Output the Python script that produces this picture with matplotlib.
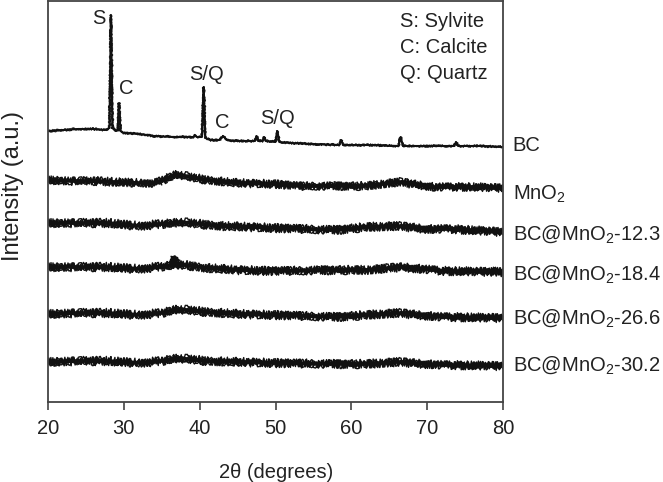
import matplotlib
matplotlib.use("Agg")
import matplotlib.pyplot as plt

plt.rcParams['font.family'] = ['Liberation Sans', 'DejaVu Sans']
plt.rcParams['mathtext.fontset'] = 'custom'
plt.rcParams['mathtext.rm'] = 'Liberation Sans'
plt.rcParams['mathtext.it'] = 'Liberation Sans:italic'
plt.rcParams['mathtext.bf'] = 'Liberation Sans:bold'

# ---------------- data (offset-stacked intensity, a.u.) ----------------
bc_x = [20, 22, 24, 26, 27.5, 28.1, 28.3, 28.5, 28.9, 29.2, 29.37, 29.55, 30, 32, 34,
        36.5, 39.2, 39.4, 39.6, 40.3, 40.53, 40.75, 41.5, 42.6, 43.1, 43.6, 45, 47.3,
        47.5, 47.7, 48.3, 48.5, 48.7, 50, 50.25, 50.5, 52, 55, 58.4, 58.65, 58.9, 62,
        66.2, 66.5, 66.8, 70, 73.6, 73.8, 74.1, 77, 80]
bc_y = [271, 272, 273, 273, 272, 274, 387, 274, 271, 272, 299, 271, 269, 268, 266,
        265, 265, 267, 265, 265, 315, 264, 262, 262, 266, 262, 261, 261,
        266, 261, 261, 265, 261, 260, 271, 260, 259, 258, 257, 262, 257, 257,
        256, 265, 256, 256, 256, 260, 256, 256, 255]

mno2_x = [20, 23, 26, 29, 32, 34.3, 36, 37, 38.7, 41, 45, 50, 53, 58, 62, 64, 66.4, 68, 71, 76, 80]
mno2_y = [222, 221, 221, 220, 219, 219, 225, 228, 225, 222, 219, 218, 216, 216, 216, 218, 220, 218, 215, 215, 214]

s123_x = [20, 24, 28, 32, 35, 37.4, 40, 43, 50, 58, 62, 66, 70, 73, 80]
s123_y = [179, 179, 179, 176, 178, 180, 178, 176, 174, 172, 175, 176, 173, 173, 170]

s184_x = [20, 24, 28, 32, 35.5, 36.5, 36.7, 36.9, 38, 41, 45, 50, 58, 62, 66.8, 72, 80]
s184_y = [135, 135, 135, 133, 136, 137, 145, 137, 137, 134, 132, 131, 132, 132, 135, 131, 130]

s266_x = [20, 24, 28, 32, 35, 37, 41, 45, 50, 58, 62, 66, 72, 80]
s266_y = [88, 89, 89, 87, 89, 93, 90, 88, 87, 85, 87, 89, 85, 84]

s302_x = [20, 24, 28, 32, 35, 37, 41, 45, 50, 58, 62, 66, 72, 80]
s302_y = [40, 41, 41, 39, 41, 44, 41, 40, 39, 38, 38, 40, 37, 36]

series_labels = ['BC', 'MnO$_2$', 'BC@MnO$_2$-12.3', 'BC@MnO$_2$-18.4',
                 'BC@MnO$_2$-26.6', 'BC@MnO$_2$-30.2']
label_baseline_y = [251.3, 202, 162, 122, 78, 31.3]

peak_labels = ['S', 'C', 'S/Q', 'C', 'S/Q']
peak_label_x = [26.7, 30.3, 40.9, 43.0, 50.3]
peak_label_y = [384, 313, 327, 280, 284]

legend_lines = ['S: Sylvite', 'C: Calcite', 'Q: Quartz']

x_ticks = [20, 30, 40, 50, 60, 70, 80]

# ---------------- figure ----------------
fig = plt.figure(figsize=(6.63, 4.82), dpi=100)
ax = fig.add_axes([48 / 663, 80 / 482, 455 / 663, 401 / 482])

xs = [bc_x, mno2_x, s123_x, s184_x, s266_x, s302_x]
ys = [bc_y, mno2_y, s123_y, s184_y, s266_y, s302_y]
noise = [1.3, 4.0, 4.2, 4.2, 4.2, 4.2]

for k, (x, y, lab, ly, nz) in enumerate(zip(xs, ys, series_labels, label_baseline_y, noise)):
    if k == 0:
        ax.plot(x, y, color='#111111', lw=1.5)
        sketches = [(nz, 0.5, 2.0), (nz * 0.8, 0.35, 3.5)]
        slw = 0.8
    else:
        ax.plot(x, y, color='#111111', lw=2.6)
        sketches = [(nz, 0.5, 2.0), (nz * 0.8, 0.35, 3.5), (nz * 0.6, 0.7, 5.0),
                    (nz * 1.1, 1.0, 1.5)]
        slw = 1.0
    for sc, ln_len, rnd in sketches:
        ln, = ax.plot(x, y, color='#111111', lw=slw)
        ln.set_sketch_params(scale=sc, length=ln_len, randomness=rnd)
    ax.annotate(lab, xy=(80, ly), xycoords='data', xytext=(7, 0),
                textcoords='offset points', fontsize=14.5, va='baseline', ha='left',
                color='#222222', annotation_clip=False)

for t, px, py in zip(peak_labels, peak_label_x, peak_label_y):
    ax.text(px, py, t, fontsize=14.5, ha='center', va='center', color='#222222')

for i, t in enumerate(legend_lines):
    ax.text(0.774, 0.948 - i * 0.064, t, transform=ax.transAxes, fontsize=14.5,
            ha='left', va='center', color='#222222')

ax.set_xlim(20, 80)
ax.set_ylim(0, 401)
ax.set_xticks(x_ticks)
ax.set_yticks([])
ax.tick_params(axis='x', direction='out', length=6, width=1.2, colors='#444444',
               labelsize=14.5, labelcolor='#222222', pad=6)
for sp in ax.spines.values():
    sp.set_color('#444444')
    sp.set_linewidth(1.3)

fig.text(276 / 663, 1 - 472 / 482, '2θ (degrees)', fontsize=14.5, color='#222222',
         ha='center', va='center')
fig.text(13 / 663, 1 - 186 / 482, 'Intensity (a.u.)', fontsize=17, color='#222222',
         ha='center', va='center', rotation=90)

fig.savefig('out.png', dpi=100)
